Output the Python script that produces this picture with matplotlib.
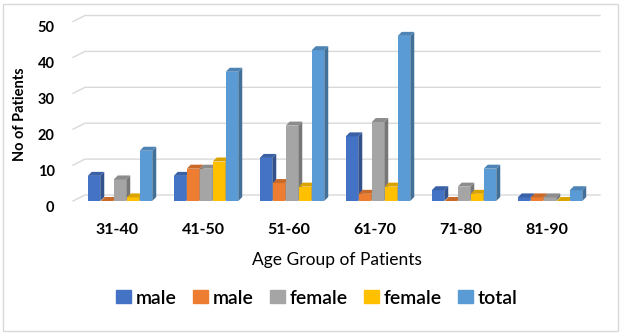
import matplotlib

matplotlib.use("Agg")
import matplotlib.pyplot as plt
from matplotlib.patches import Polygon, Rectangle
from matplotlib.colors import to_rgb

plt.rcParams["font.family"] = ["Lato", "DejaVu Sans"]

AGE_GROUPS = ["31-40", "41-50", "51-60", "61-70", "71-80", "81-90"]
MALE_A = [7, 7, 12, 18, 3, 1]
MALE_B = [0, 9, 5, 2, 0, 1]
FEMALE_A = [6, 9, 21, 22, 4, 1]
FEMALE_B = [1, 11, 4, 4, 2, 0]
TOTAL = [14, 36, 42, 46, 9, 3]
SERIES = [MALE_A, MALE_B, FEMALE_A, FEMALE_B, TOTAL]
SERIES_NAMES = ["male", "male", "female", "female", "total"]
COLORS = ["#4472C4", "#ED7D31", "#A5A5A5", "#FFC000", "#5B9BD5"]

W, H = 621, 334
AX_W = 516
fig = plt.figure(figsize=(W / 100, H / 100), dpi=100)
ax = fig.add_axes([74 / W, (H - 201) / H, AX_W / W, 179.5 / H])
ax.set_xlim(-0.5, 5.5)
ax.set_ylim(0, 50)
for s in ax.spines.values():
    s.set_visible(False)

# data units per pixel
ux = 6 / AX_W
uy = 50 / 179.5


def shade(c, f):
    r, g, b = to_rgb(c)
    return (r * f, g * f, b * f)


# back-wall gridlines with a little perspective step on the left
for g in range(0, 51, 10):
    ax.plot([-0.5 - 1 * ux, -0.5 + 11 * ux, 5.5 + 10 * ux], [g, g + 6 * uy, g + 6 * uy],
            color="#D9D9D9", lw=1, clip_on=False, zorder=0)

pitch = 13 * ux
bw = 12.5 * ux
dx, dy = 4 * ux, 4 * uy
for i in range(len(AGE_GROUPS)):
    for j, (vals, col) in enumerate(zip(SERIES, COLORS)):
        x = i + (j - 2) * pitch + 3 * ux
        v = vals[i]
        z = 2 + i * 10 + j
        ax.bar(x, v, width=bw, color=col, zorder=z)
        l, r = x - bw / 2, x + bw / 2
        ax.add_patch(Polygon([(r, 0), (r + dx, dy), (r + dx, v + dy), (r, v)],
                             closed=True, fc=shade(col, 0.72), ec="none", zorder=z))
        ax.add_patch(Polygon([(l, v), (l + dx, v + dy), (r + dx, v + dy), (r, v)],
                             closed=True, fc=shade(col, 0.85), ec="none", zorder=z,
                             clip_on=False))

ax.set_xticks(range(len(AGE_GROUPS)))
ax.set_xticklabels(AGE_GROUPS, fontsize=11.5, fontweight="bold")
ax.set_yticks(range(0, 51, 10))
ax.set_yticklabels([str(t) for t in range(0, 51, 10)], fontsize=10.5, fontweight="bold")
ax.tick_params(axis="x", length=0, pad=16)
ax.tick_params(axis="y", length=0, pad=14)
for lab in ax.get_yticklabels():
    lab.set_verticalalignment("top")

ax.set_xlabel("Age Group of Patients", fontsize=12.5, va="center")
ax.xaxis.set_label_coords(337 / W, (H - 260) / H, transform=fig.transFigure)
fig.text(20 / W, (H - 114) / H, "No of Patients", rotation=90, ha="center", va="center",
         fontsize=10.5, fontweight="bold")

handles = [Rectangle((0, 0), 1, 1, color=c) for c in COLORS]
fig.legend(handles, SERIES_NAMES, loc="center", bbox_to_anchor=(317 / W, (H - 298) / H),
           ncol=5, frameon=False, handlelength=0.75, handleheight=0.65,
           handletextpad=0.25, columnspacing=0.85, prop={"size": 14, "weight": "semibold"})

fig.patches.append(Rectangle((3 / W, 3 / H), 615 / W, 327 / H, transform=fig.transFigure,
                             fill=False, ec="#D9D9D9", lw=1))

fig.savefig("out.png", dpi=100)
